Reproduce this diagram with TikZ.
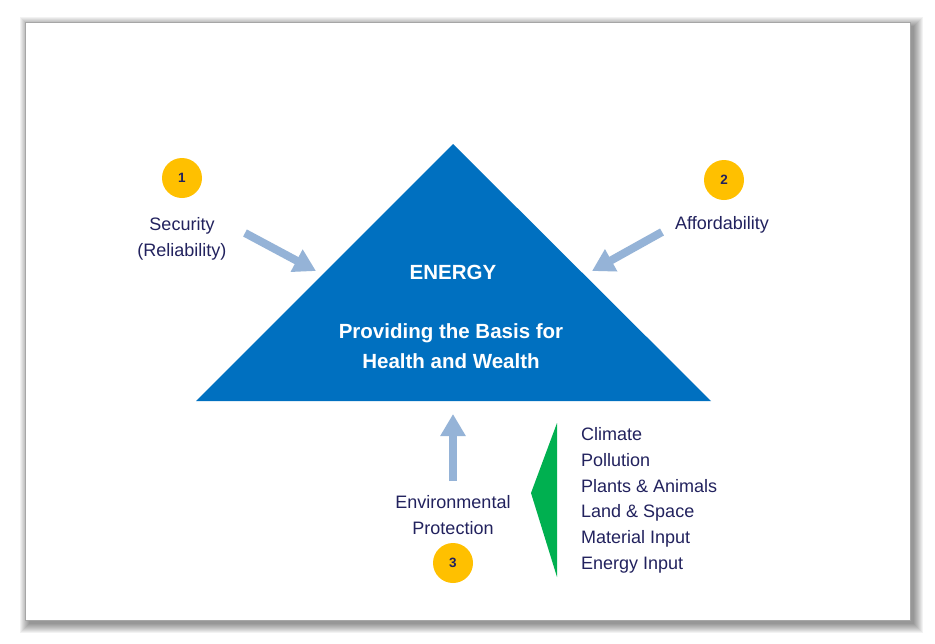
\documentclass[tikz,border=0pt]{standalone}
\usepackage{fontspec}
\setmainfont{Liberation Sans}
\usepackage{tikz}
\usetikzlibrary{arrows.meta}
\definecolor{energyblue}{HTML}{0070C0}
\definecolor{arrowblue}{HTML}{95B3D7}
\definecolor{badge}{HTML}{FFC000}
\definecolor{navy}{HTML}{22225E}
\definecolor{leafgreen}{HTML}{00B050}
\tikzset{%
  label/.style={%
    text=navy,%
    align=center,%
    font=\fontsize{18}{26}\selectfont},%
  item/.style={%
    text=navy,%
    anchor=west,%
    inner sep=0pt,%
    font=\fontsize{18}{26}\selectfont},%
  title/.style={%
    text=white,%
    align=center,%
    font=\bfseries\fontsize{20.5}{30}\selectfont},%
  num/.style={%
    circle,%
    fill=badge,%
    minimum size=40pt,%
    inner sep=0pt,%
    text=navy,%
    font=\bfseries\fontsize{13.5}{15}\selectfont},%
  push/.style={%
    draw=arrowblue,%
    line width=8pt,%
    -{Triangle[width=24pt,length=22pt]}}
}

\begin{document}
\begin{tikzpicture}[x=1pt,y=-1pt]
  \useasboundingbox (0,0) rectangle (935,643);
  % card with its shadow
  \foreach \i in {0,...,9}
    \fill[black,opacity=0.05] (29-\i,26-\i) rectangle (914+\i,624+\i);
  \fill[white] (25,22) rectangle (910,620);
  \draw[black!35,line width=0.6pt] (25,22) rectangle (910,620);

  % the triangle
  \coordinate (apex) at (453,144);
  \coordinate (left) at (196,401);
  \coordinate (right) at (711,401);
  \fill[energyblue] (apex) -- (right) -- (left) -- cycle;
  \node[title] (energy) at (453,272) {ENERGY};
  \node[title] (basis) at (451,346) {Providing the Basis for\\Health and Wealth};

  % the three pillars
  \node[num] (one) at (182,178) {1};
  \node[num] (two) at (724,180) {2};
  \node[num] (three) at (453,563) {3};
  \node[label] (security) at (182,239) {Security\\(Reliability)};
  \node[label] (afford) at (722,225) {Affordability};
  \node[label] (env) at (453,515) {Environmental\\Protection};

  \coordinate (s1) at (245,233);
  \coordinate (e1) at (316,271);
  \coordinate (s2) at (662,232);
  \coordinate (e2) at (592,271);
  \coordinate (s3) at (453,481);
  \coordinate (e3) at (453,414);
  \draw[push] (s1) -- (e1);
  \draw[push] (s2) -- (e2);
  \draw[push] (s3) -- (e3);

  % what protection covers
  \coordinate (gtop) at (557,423);
  \coordinate (gtip) at (531,493);
  \coordinate (gbot) at (557,577);
  \fill[leafgreen] (gtop) -- (gtip) -- (gbot) -- cycle;
  \foreach \t [count=\i] in {Climate,Pollution,Plants \& Animals,%
      Land \& Space,Material Input,Energy Input}
    \node[item] (item\i) at (581,{434+26.2*(\i-1)}) {\t};
\end{tikzpicture}
\end{document}
